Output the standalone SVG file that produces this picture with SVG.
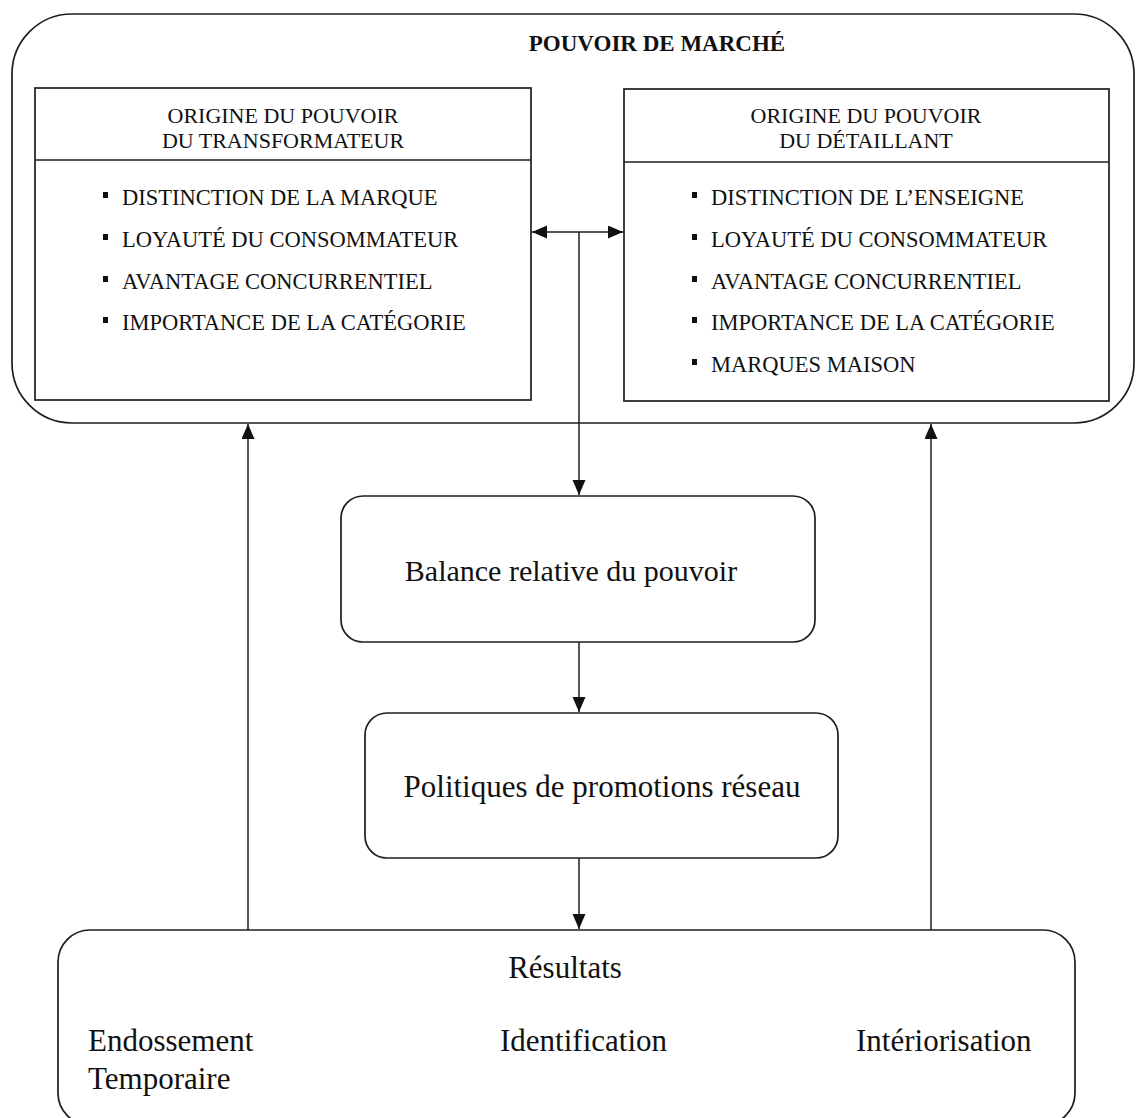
<svg xmlns="http://www.w3.org/2000/svg" width="1136" height="1118" viewBox="0 0 1136 1118">
  <style>
    .box { fill: none; stroke: #1e1e1e; stroke-width: 1.7; }
    .conn { fill: none; stroke: #1e1e1e; stroke-width: 1.5; }
    .title { font-family: "Liberation Serif", "Times New Roman", serif; font-weight: bold; font-size: 23px; fill: #111; }
    .hdr { font-family: "Liberation Serif", "Times New Roman", serif; font-size: 22px; fill: #111; }
    .item { font-family: "Liberation Serif", "Times New Roman", serif; font-size: 22.5px; fill: #111; }
    .lbl { font-family: "Liberation Serif", "Times New Roman", serif; font-size: 31px; fill: #111; }
    .bul { fill: #111; }
  </style>
  <defs>
    <marker id="arrow" markerUnits="userSpaceOnUse" markerWidth="16" markerHeight="14" refX="15" refY="6.5" orient="auto-start-reverse">
      <path d="M0,0 L15,6.5 L0,13 z" fill="#111"/>
    </marker>
  </defs>

  <rect width="1136" height="1118" fill="#ffffff"/>

  <!-- Market power frame -->
  <g id="pouvoir-marche">
    <rect class="box" x="12" y="14" width="1122" height="409" rx="60" ry="60"/>
    <text class="title" x="657" y="51" text-anchor="middle">POUVOIR DE MARCHÉ</text>
  </g>

  <!-- Processor power sources -->
  <g id="origine-transformateur">
    <rect class="box" x="35" y="88" width="496" height="312"/>
    <line class="box" x1="35" y1="160" x2="531" y2="160"/>
    <text class="hdr" x="283" y="123" text-anchor="middle">ORIGINE DU POUVOIR</text>
    <text class="hdr" x="283" y="148" text-anchor="middle">DU TRANSFORMATEUR</text>
    <rect class="bul" x="103" y="192" width="5" height="6"/>
    <text class="item" x="122" y="205">DISTINCTION DE LA MARQUE</text>
    <rect class="bul" x="103" y="234" width="5" height="6"/>
    <text class="item" x="122" y="247">LOYAUTÉ DU CONSOMMATEUR</text>
    <rect class="bul" x="103" y="276" width="5" height="6"/>
    <text class="item" x="122" y="289">AVANTAGE CONCURRENTIEL</text>
    <rect class="bul" x="103" y="317" width="5" height="6"/>
    <text class="item" x="122" y="330">IMPORTANCE DE LA CATÉGORIE</text>
  </g>

  <!-- Retailer power sources -->
  <g id="origine-detaillant">
    <rect class="box" x="624" y="89" width="485" height="312"/>
    <line class="box" x1="624" y1="162" x2="1109" y2="162"/>
    <text class="hdr" x="866" y="123" text-anchor="middle">ORIGINE DU POUVOIR</text>
    <text class="hdr" x="866" y="148" text-anchor="middle">DU DÉTAILLANT</text>
    <rect class="bul" x="692" y="192" width="5" height="6"/>
    <text class="item" x="711" y="205">DISTINCTION DE L’ENSEIGNE</text>
    <rect class="bul" x="692" y="234" width="5" height="6"/>
    <text class="item" x="711" y="247">LOYAUTÉ DU CONSOMMATEUR</text>
    <rect class="bul" x="692" y="276" width="5" height="6"/>
    <text class="item" x="711" y="289">AVANTAGE CONCURRENTIEL</text>
    <rect class="bul" x="692" y="317" width="5" height="6"/>
    <text class="item" x="711" y="330">IMPORTANCE DE LA CATÉGORIE</text>
    <rect class="bul" x="692" y="359" width="5" height="6"/>
    <text class="item" x="711" y="372">MARQUES MAISON</text>
  </g>

  <!-- Relative balance of power -->
  <g id="balance">
    <rect class="box" x="341" y="496" width="474" height="146" rx="22" ry="22"/>
    <text class="lbl" x="571" y="581" text-anchor="middle" style="font-size:30px">Balance relative du pouvoir</text>
  </g>

  <!-- Channel promotion policies -->
  <g id="politiques">
    <rect class="box" x="365" y="713" width="473" height="145" rx="22" ry="22"/>
    <text class="lbl" x="602" y="797" text-anchor="middle">Politiques de promotions réseau</text>
  </g>

  <!-- Outcomes -->
  <g id="resultats">
    <rect class="box" x="58" y="930" width="1017" height="195" rx="32" ry="32"/>
    <text class="lbl" x="565" y="978" text-anchor="middle">Résultats</text>
    <text class="lbl" x="88" y="1051">Endossement</text>
    <text class="lbl" x="88" y="1089">Temporaire</text>
    <text class="lbl" x="500" y="1051">Identification</text>
    <text class="lbl" x="856" y="1051">Intériorisation</text>
  </g>

  <!-- Connectors -->
  <g id="connecteurs">
    <line class="conn" x1="532" y1="232" x2="623" y2="232" marker-start="url(#arrow)" marker-end="url(#arrow)"/>
    <line class="conn" x1="579" y1="232" x2="579" y2="495" marker-end="url(#arrow)"/>
    <line class="conn" x1="579" y1="642" x2="579" y2="712" marker-end="url(#arrow)"/>
    <line class="conn" x1="579" y1="858" x2="579" y2="929" marker-end="url(#arrow)"/>
    <line class="conn" x1="248" y1="930" x2="248" y2="424" marker-end="url(#arrow)"/>
    <line class="conn" x1="931" y1="930" x2="931" y2="424" marker-end="url(#arrow)"/>
  </g>
</svg>
